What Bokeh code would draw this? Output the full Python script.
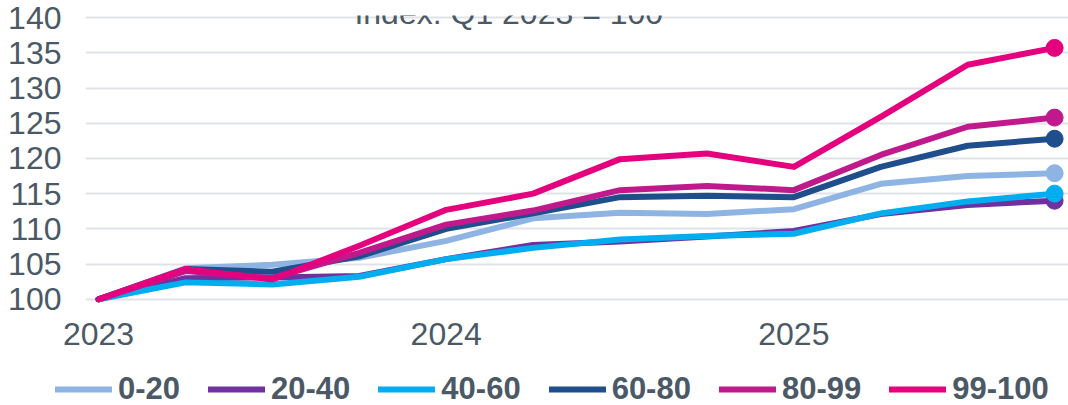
from bokeh.plotting import figure
from bokeh.layouts import column
from bokeh.models import Range1d, FixedTicker, Legend, LegendItem, Label, ColumnDataSource
from bokeh.embed import file_html
from bokeh.resources import INLINE

quarters = list(range(12))
year_ticks = [0, 4, 8]
year_labels = ["2023", "2024", "2025"]
series_names = ["0-20", "20-40", "40-60", "60-80", "80-99", "99-100"]
colors = ["#8EB4E3", "#7030A0", "#00AEEF", "#1F4E8C", "#C0198C", "#E5007D"]

s_0_20 = [100, 104.4, 104.9, 105.9, 108.3, 111.5, 112.3, 112.1, 112.8, 116.4, 117.5, 117.9]
s_20_40 = [100, 103.0, 103.1, 103.3, 105.7, 107.7, 108.2, 108.9, 109.7, 112.1, 113.4, 114.0]
s_40_60 = [100, 102.4, 102.1, 103.2, 105.7, 107.3, 108.5, 109.0, 109.3, 112.2, 113.9, 115.0]
s_60_80 = [100, 104.3, 103.9, 106.1, 110.0, 112.2, 114.5, 114.7, 114.5, 118.8, 121.8, 122.8]
s_80_99 = [100, 104.0, 103.0, 106.6, 110.6, 112.6, 115.5, 116.1, 115.5, 120.5, 124.5, 125.8]
s_99_100 = [100, 104.3, 102.8, 107.6, 112.7, 115.0, 119.9, 120.7, 118.8, 125.9, 133.3, 135.7]
all_series = [s_0_20, s_20_40, s_40_60, s_60_80, s_80_99, s_99_100]

title_text = "Index: Q1 2023 = 100"
y_ticks = [100, 105, 110, 115, 120, 125, 130, 135, 140]

TEXT = "#4B5966"
FONT = "Liberation Sans"

p = figure(width=1068, height=358, output_backend="svg", toolbar_location=None,
           x_range=Range1d(-0.15, 11.16), y_range=Range1d(99.4, 140.3),
           min_border_top=15, min_border_bottom=55, min_border_left=85, min_border_right=0)
p.outline_line_color = None
p.background_fill_color = "white"
p.border_fill_color = "white"

p.xgrid.grid_line_color = None
p.ygrid.grid_line_color = "#DFE3E8"
p.ygrid.grid_line_width = 2

p.yaxis.ticker = FixedTicker(ticks=y_ticks)
p.xaxis.ticker = FixedTicker(ticks=year_ticks)
p.xaxis.major_label_overrides = {t: l for t, l in zip(year_ticks, year_labels)}
for ax in (p.xaxis, p.yaxis):
    ax.axis_line_color = None
    ax.major_tick_line_color = None
    ax.minor_tick_line_color = None
    ax.major_tick_out = 0
    ax.major_tick_in = 0
    ax.minor_tick_out = 0
    ax.minor_tick_in = 0
    ax.major_label_text_font = FONT
    ax.major_label_text_font_size = "32px"
    ax.major_label_text_color = TEXT
p.yaxis.major_label_standoff = 24
p.xaxis.major_label_standoff = 19

sources = []
for name, col, vals in zip(series_names, colors, all_series):
    src = ColumnDataSource(dict(x=quarters, y=vals))
    sources.append(src)
    p.line("x", "y", source=src, line_color=col, line_width=6, line_cap="round", line_join="round")
    p.scatter([quarters[-1]], [vals[-1]], size=17, color=col)

p.add_layout(Label(x=4.72, y=140.6, text=title_text, text_align="center", text_baseline="alphabetic",
                   text_font=FONT, text_font_size="32px", text_color=TEXT))

# legend strip (its range hides the data, only the legend shows)
lg = figure(width=1068, height=47, output_backend="svg", toolbar_location=None,
            x_range=Range1d(0, 1), y_range=Range1d(0, 1), x_axis_type=None, y_axis_type=None,
            min_border=0)
lg.frame_align = False
lg.outline_line_color = None
lg.xgrid.grid_line_color = None
lg.ygrid.grid_line_color = None
items = []
for name, col, src in zip(series_names, colors, sources):
    r = lg.line("x", "y", source=src, line_color=col, line_width=6, line_cap="round")
    items.append(LegendItem(label=name, renderers=[r]))
legend = Legend(items=items, orientation="horizontal", location=(55, -2),
                glyph_width=57, glyph_height=30, label_standoff=6, spacing=28,
                padding=0, margin=0, border_line_color=None, background_fill_alpha=0,
                label_text_font=FONT, label_text_font_size="31px", label_text_font_style="bold",
                label_text_color=TEXT)
lg.add_layout(legend, "center")

layout = column(p, lg, spacing=0)
open("out.html", "w").write(file_html(layout, INLINE))
